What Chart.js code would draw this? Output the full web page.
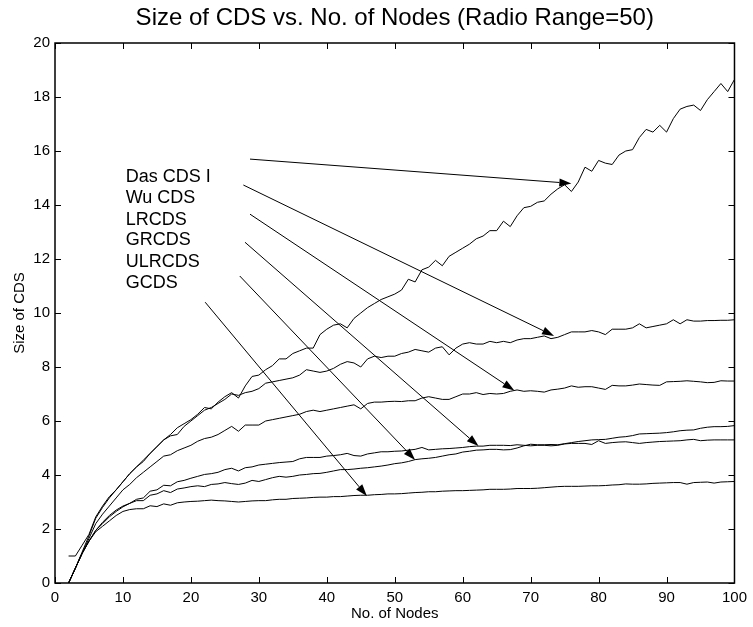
<!DOCTYPE html>
<html lang="en">
<head>
  <meta charset="UTF-8" />
  <title>Size of CDS vs. No. of Nodes</title>
  <script src="https://cdn.jsdelivr.net/npm/chart.js"></script>
  <style>
    body { margin: 0; background: #fff; }
    .wrap { width: 753px; height: 627px; }
  </style>
</head>
<body>
  <div class="wrap"><canvas id="cdsChart" width="753" height="627"></canvas></div>

  <script>
    const nodes = [2, 3, 4, 5, 6, 7, 8, 9, 10, 11,
      12, 13, 14, 15, 16, 17, 18, 19, 20, 21,
      22, 23, 24, 25, 26, 27, 28, 29, 30, 31,
      32, 33, 34, 35, 36, 37, 38, 39, 40, 41,
      42, 43, 44, 45, 46, 47, 48, 49, 50, 51,
      52, 53, 54, 55, 56, 57, 58, 59, 60, 61,
      62, 63, 64, 65, 66, 67, 68, 69, 70, 71,
      72, 73, 74, 75, 76, 77, 78, 79, 80, 81,
      82, 83, 84, 85, 86, 87, 88, 89, 90, 91,
      92, 93, 94, 95, 96, 97, 98, 99, 100];

    const dasCds = [1.0, 1.0, 1.4, 1.8, 2.45, 2.85, 3.2, 3.45, 3.75, 4.05,
      4.3, 4.55, 4.8, 5.05, 5.3, 5.5, 5.75, 5.9, 6.05, 6.25,
      6.5, 6.45, 6.7, 6.9, 7.05, 6.85, 7.3, 7.65, 7.7, 7.9,
      8.05, 8.3, 8.3, 8.5, 8.6, 8.7, 8.7, 9.2, 9.4, 9.55,
      9.6, 9.45, 9.8, 10.0, 10.2, 10.35, 10.5, 10.6, 10.7, 10.85,
      11.25, 11.15, 11.6, 11.7, 11.95, 11.75, 12.1, 12.25, 12.4, 12.55,
      12.75, 12.85, 13.05, 13.05, 13.4, 13.2, 13.6, 13.9, 13.95, 14.1,
      14.15, 14.4, 14.6, 14.75, 14.5, 14.85, 15.4, 15.25, 15.65, 15.55,
      15.5, 15.85, 16.0, 16.05, 16.5, 16.8, 16.7, 16.95, 16.7, 17.2,
      17.55, 17.65, 17.7, 17.5, 17.9, 18.2, 18.5, 18.2, 18.65];

    const wuCds = [0, 0.55, 1.15, 1.75, 2.4, 2.8, 3.15, 3.45, 3.75, 4.05,
      4.3, 4.5, 4.8, 5.05, 5.3, 5.45, 5.5, 5.8, 6.0, 6.2,
      6.4, 6.5, 6.65, 6.8, 7.0, 6.95, 7.05, 7.1, 7.2, 7.4,
      7.45, 7.5, 7.55, 7.6, 7.7, 7.9, 7.85, 7.8, 7.85, 7.95,
      8.1, 8.2, 8.15, 8.0, 8.3, 8.4, 8.35, 8.4, 8.4, 8.5,
      8.55, 8.65, 8.6, 8.55, 8.7, 8.75, 8.45, 8.7, 8.85, 8.9,
      8.85, 8.85, 8.95, 8.9, 8.95, 8.9, 9.0, 9.05, 9.05, 9.1,
      9.15, 9.05, 9.1, 9.2, 9.3, 9.3, 9.3, 9.35, 9.3, 9.2,
      9.4, 9.4, 9.4, 9.45, 9.6, 9.45, 9.5, 9.55, 9.6, 9.75,
      9.6, 9.75, 9.7, 9.7, 9.72, 9.72, 9.73, 9.73, 9.75];

    const lrCds = [0, 0.55, 1.1, 1.65, 2.2, 2.55, 2.85, 3.15, 3.45, 3.65,
      3.9, 4.1, 4.3, 4.5, 4.7, 4.75, 4.9, 5.0, 5.1, 5.25,
      5.35, 5.4, 5.5, 5.65, 5.8, 5.62, 5.85, 5.85, 5.85, 6.0,
      6.05, 6.1, 6.15, 6.2, 6.25, 6.35, 6.4, 6.35, 6.4, 6.45,
      6.5, 6.55, 6.6, 6.45, 6.65, 6.7, 6.7, 6.72, 6.73, 6.72,
      6.75, 6.75, 6.85, 6.9, 6.85, 6.8, 6.8, 6.9, 7.0, 7.0,
      7.05, 6.98, 7.02, 7.0, 7.02, 7.1, 7.15, 7.1, 7.12, 7.1,
      7.07, 7.15, 7.18, 7.22, 7.3, 7.25, 7.27, 7.27, 7.22, 7.17,
      7.32, 7.3, 7.3, 7.33, 7.37, 7.35, 7.33, 7.32, 7.45, 7.46,
      7.47, 7.49, 7.47, 7.45, 7.42, 7.43, 7.49, 7.48, 7.48];

    const grCds = [0, 0.55, 1.1, 1.55, 1.95, 2.25, 2.5, 2.7, 2.85, 2.95,
      3.1, 3.15, 3.4, 3.45, 3.62, 3.6, 3.75, 3.8, 3.88, 3.95,
      4.02, 4.05, 4.1, 4.2, 4.25, 4.15, 4.27, 4.3, 4.37, 4.4,
      4.43, 4.46, 4.48, 4.5, 4.6, 4.65, 4.65, 4.65, 4.7, 4.72,
      4.75, 4.8, 4.72, 4.7, 4.78, 4.82, 4.86, 4.86, 4.88, 4.89,
      4.92, 4.95, 5.02, 4.93, 4.95, 4.97, 4.98, 5.0, 5.02, 5.05,
      5.07, 5.07, 5.1, 5.1, 5.1, 5.09, 5.12, 5.1, 5.08, 5.1,
      5.1, 5.08, 5.1, 5.15, 5.17, 5.17, 5.17, 5.13, 5.27, 5.17,
      5.2, 5.22, 5.23, 5.2, 5.17, 5.2, 5.22, 5.24, 5.25, 5.26,
      5.27, 5.3, 5.32, 5.27, 5.29, 5.3, 5.3, 5.3, 5.3];

    const ulrCds = [0, 0.55, 1.1, 1.55, 1.95, 2.2, 2.45, 2.65, 2.82, 2.95,
      3.05, 3.05, 3.25, 3.3, 3.42, 3.35, 3.48, 3.52, 3.57, 3.6,
      3.57, 3.65, 3.67, 3.72, 3.68, 3.65, 3.7, 3.8, 3.76, 3.83,
      3.9, 3.95, 3.92, 3.95, 4.0, 4.02, 4.05, 4.06, 4.1, 4.15,
      4.2, 4.2, 4.22, 4.25, 4.27, 4.3, 4.33, 4.37, 4.42, 4.45,
      4.5, 4.57, 4.6, 4.62, 4.65, 4.7, 4.75, 4.78, 4.85, 4.88,
      4.92, 4.93, 4.95, 4.95, 4.93, 4.94, 5.0, 5.08, 5.14, 5.12,
      5.12, 5.13, 5.12, 5.16, 5.2, 5.24, 5.27, 5.3, 5.31, 5.32,
      5.36, 5.4, 5.42, 5.46, 5.52, 5.53, 5.54, 5.55, 5.57, 5.6,
      5.64, 5.66, 5.67, 5.73, 5.77, 5.79, 5.79, 5.8, 5.83];

    const gCds = [0, 0.55, 1.1, 1.55, 1.9, 2.1, 2.3, 2.5, 2.65, 2.72,
      2.75, 2.75, 2.86, 2.83, 2.93, 2.88, 2.97, 3.0, 3.02, 3.03,
      3.05, 3.07, 3.05, 3.04, 3.02, 3.0, 3.02, 3.04, 3.05, 3.05,
      3.08, 3.1, 3.1, 3.13, 3.14, 3.15, 3.17, 3.18, 3.18, 3.2,
      3.2, 3.22, 3.24, 3.25, 3.25, 3.27, 3.28, 3.3, 3.3, 3.31,
      3.33, 3.35, 3.36, 3.38, 3.38, 3.4, 3.41, 3.42, 3.42, 3.43,
      3.44, 3.45, 3.47, 3.47, 3.47, 3.48, 3.5, 3.5, 3.5, 3.51,
      3.53, 3.55, 3.57, 3.58, 3.58, 3.58, 3.59, 3.6, 3.6, 3.61,
      3.63, 3.64, 3.67, 3.66, 3.66, 3.67, 3.69, 3.7, 3.71, 3.72,
      3.72, 3.66, 3.72, 3.73, 3.74, 3.7, 3.74, 3.75, 3.76];

    // text labels and arrows, in data units
    const labelNames = ["Das CDS I", "Wu CDS", "LRCDS", "GRCDS", "ULRCDS", "GCDS"];
    const labelX = [10.4, 10.4, 10.4, 10.4, 10.4, 10.4];
    const labelY = [15.04, 14.24, 13.45, 12.7, 11.9, 11.1];
    const arrowFromX = [28.7, 27.72, 28.7, 27.96, 27.19, 22.1];
    const arrowFromY = [15.70, 14.74, 13.66, 12.62, 11.37, 10.40];
    const arrowToX = [75.99, 73.45, 67.6, 62.33, 53.0, 45.9];
    const arrowToY = [14.80, 9.15, 7.13, 5.07, 4.56, 3.22];

    const FONT = '"Liberation Sans", Arial, Helvetica, sans-serif';

    function toPoints(ys) {
      return nodes.map((n, i) => ({ x: n, y: ys[i] }));
    }

    function line(label, ys) {
      return {
        label: label,
        data: toPoints(ys),
        borderColor: "#000",
        borderWidth: 1,
        pointRadius: 0,
        tension: 0,
        fill: false
      };
    }

    const decorations = {
      id: "decorations",
      afterDraw(chart) {
        const { ctx, chartArea: a, scales: { x, y } } = chart;
        ctx.save();
        ctx.strokeStyle = "#000";
        ctx.fillStyle = "#000";
        ctx.lineWidth = 1;

        // box and inward ticks
        ctx.lineWidth = 1.5;
        ctx.strokeRect(a.left, a.top, a.right - a.left, a.bottom - a.top);
        ctx.lineWidth = 1;
        ctx.beginPath();
        x.ticks.forEach(t => {
          const px = Math.round(x.getPixelForValue(t.value)) + 0.5;
          ctx.moveTo(px, a.bottom); ctx.lineTo(px, a.bottom - 6);
          ctx.moveTo(px, a.top); ctx.lineTo(px, a.top + 6);
        });
        y.ticks.forEach(t => {
          const py = Math.round(y.getPixelForValue(t.value)) + 0.5;
          ctx.moveTo(a.left, py); ctx.lineTo(a.left + 6, py);
          ctx.moveTo(a.right, py); ctx.lineTo(a.right - 6, py);
        });
        ctx.stroke();

        // title centred over the plot
        ctx.font = "24px " + FONT;
        ctx.textAlign = "center";
        ctx.textBaseline = "middle";
        ctx.fillText("Size of CDS vs. No. of Nodes (Radio Range=50)", (a.left + a.right) / 2, 18);

        // series names
        ctx.font = "18px " + FONT;
        ctx.textAlign = "left";
        labelNames.forEach((name, i) => {
          ctx.fillText(name, x.getPixelForValue(labelX[i]), y.getPixelForValue(labelY[i]));
        });

        // arrows
        for (let i = 0; i < arrowFromX.length; i++) {
          const x0 = x.getPixelForValue(arrowFromX[i]), y0 = y.getPixelForValue(arrowFromY[i]);
          const x1 = x.getPixelForValue(arrowToX[i]), y1 = y.getPixelForValue(arrowToY[i]);
          const ang = Math.atan2(y1 - y0, x1 - x0);
          const len = 12, half = 4;
          const bx = x1 - len * Math.cos(ang), by = y1 - len * Math.sin(ang);
          ctx.beginPath();
          ctx.moveTo(x0, y0);
          ctx.lineTo(bx, by);
          ctx.stroke();
          ctx.beginPath();
          ctx.moveTo(x1, y1);
          ctx.lineTo(bx + half * Math.sin(ang), by - half * Math.cos(ang));
          ctx.lineTo(bx - half * Math.sin(ang), by + half * Math.cos(ang));
          ctx.closePath();
          ctx.fill();
        }
        ctx.restore();
      }
    };

    new Chart(document.getElementById("cdsChart"), {
      type: "line",
      data: {
        datasets: [
          line("Das CDS I", dasCds),
          line("Wu CDS", wuCds),
          line("LRCDS", lrCds),
          line("GRCDS", grCds),
          line("ULRCDS", ulrCds),
          line("GCDS", gCds)
        ]
      },
      options: {
        responsive: false,
        animation: false,
        layout: { padding: { top: 43, right: 15, bottom: 0, left: 0 } },
        plugins: { legend: { display: false }, tooltip: { enabled: false } },
        scales: {
          x: {
            type: "linear",
            min: 0, max: 100,
            grid: { display: false, drawTicks: false },
            border: { display: false },
            ticks: { stepSize: 10, color: "#000", padding: 6, font: { family: FONT, size: 15 } },
            title: { display: true, text: "No. of Nodes", color: "#000", padding: { bottom: 4 }, font: { family: FONT, size: 15 } },
            afterFit(scale) { scale.height = 44; }
          },
          y: {
            min: 0, max: 20,
            grid: { display: false, drawTicks: false },
            border: { display: false },
            ticks: { stepSize: 2, color: "#000", padding: 5, font: { family: FONT, size: 15 } },
            title: { display: true, text: "Size of CDS", color: "#000", padding: { top: 11 }, font: { family: FONT, size: 15 } },
            afterFit(scale) { scale.width = 55; }
          }
        }
      },
      plugins: [decorations]
    });
  </script>
</body>
</html>
